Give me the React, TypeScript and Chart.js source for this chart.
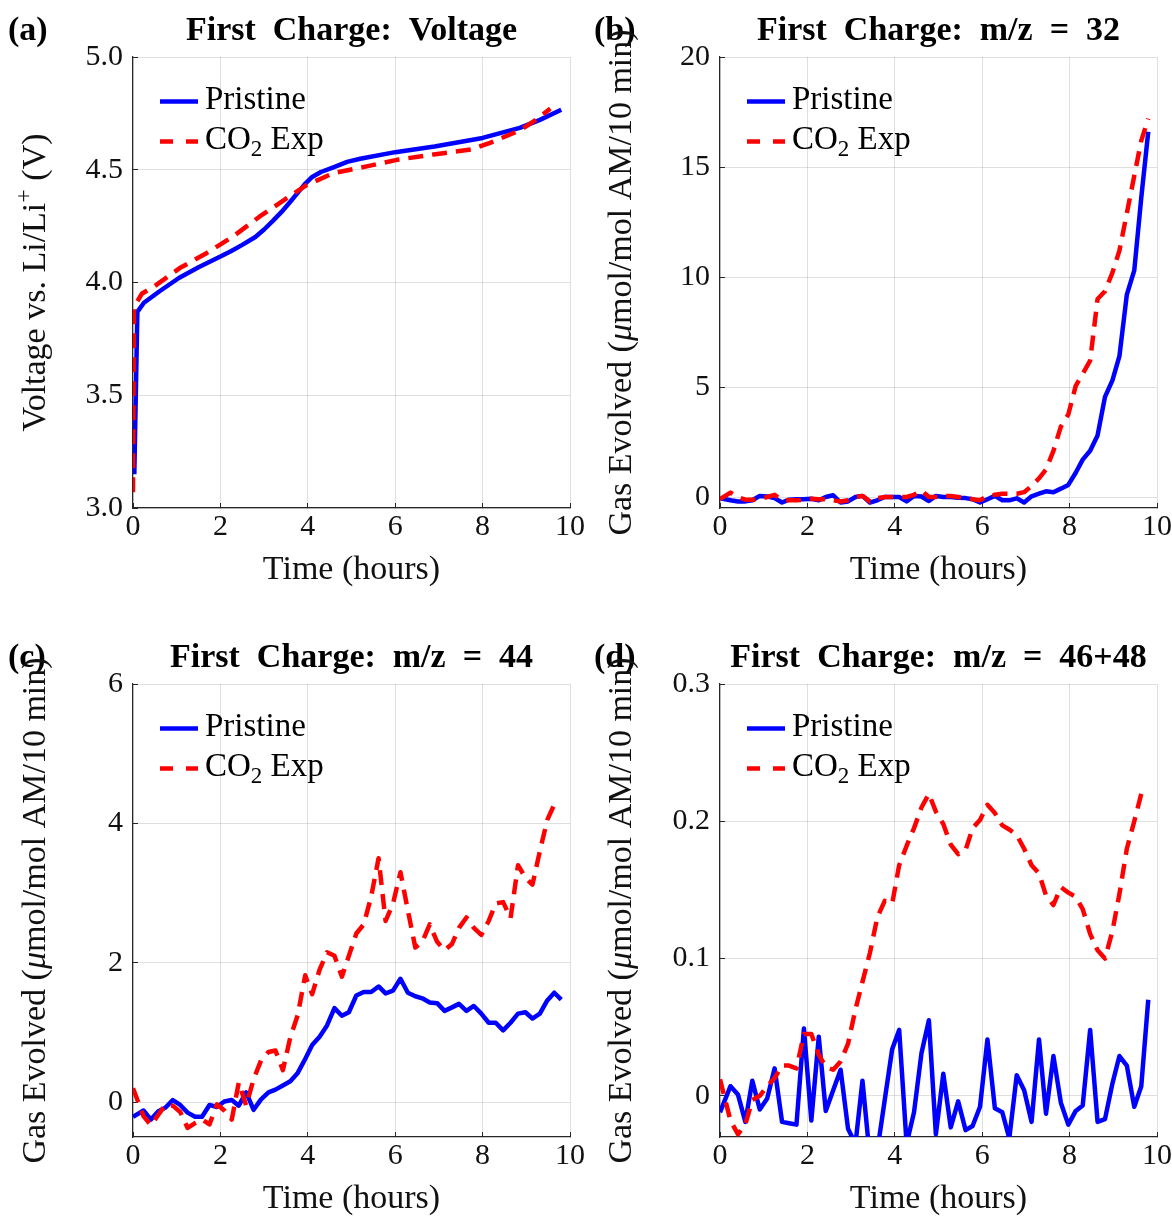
import React, { useEffect, useRef } from 'react';
import { Chart, registerables } from 'chart.js';

Chart.register(...registerables);

// ---------------- DATA ----------------
const timeHours = [0, 0.24, 0.41, 0.58, 0.74, 0.91, 1.08, 1.25, 1.42, 1.58, 1.75, 1.92, 2.09, 2.26, 2.42, 2.59, 2.76, 2.93, 3.1, 3.26, 3.43, 3.6, 3.77, 3.94, 4.1, 4.27, 4.44, 4.61, 4.78, 4.94, 5.11, 5.28, 5.45, 5.62, 5.78, 5.95, 6.12, 6.29, 6.46, 6.62, 6.79, 6.96, 7.13, 7.3, 7.46, 7.63, 7.8, 7.97, 8.14, 8.3, 8.47, 8.64, 8.81, 8.98, 9.14, 9.31, 9.48, 9.64, 9.8];

const voltTimePristine = [0.03, 0.1, 0.25, 0.6, 1.05, 1.5, 2.0, 2.25, 2.5, 2.8, 3.0, 3.2, 3.4, 3.6, 3.8, 3.95, 4.1, 4.3, 4.6, 4.9, 5.2, 6.0, 6.9, 8.0, 8.85, 9.3, 9.8];
const voltPristine = [3.15, 3.87, 3.91, 3.96, 4.02, 4.068, 4.115, 4.14, 4.167, 4.202, 4.235, 4.273, 4.313, 4.358, 4.405, 4.44, 4.468, 4.49, 4.512, 4.535, 4.549, 4.578, 4.603, 4.641, 4.686, 4.72, 4.766];
const voltTimeCO2 = [0, 0.02, 0.2, 0.5, 1.07, 1.68, 2.29, 2.9, 3.52, 3.98, 4.59, 5.35, 6.04, 6.88, 7.74, 8.17, 8.86, 9.21, 9.55];
const voltCO2 = [3.07, 3.89, 3.95, 3.985, 4.064, 4.13, 4.204, 4.293, 4.374, 4.433, 4.485, 4.515, 4.544, 4.568, 4.59, 4.619, 4.675, 4.72, 4.771];

// m/z = 32
const o2Pristine = [
  -0.05, -0.15, -0.2, -0.2, -0.15, 0.05, 0.02, -0.05, -0.25, -0.12,
  -0.1, -0.1, -0.08, -0.15, 0.0, 0.08, -0.25, -0.2, 0.0, 0.05,
  -0.25, -0.15, 0.0, 0.0, 0.0, -0.2, 0.05, 0.02, -0.18, 0.05,
  0.0, 0.0, -0.03, -0.05, -0.1, -0.25, -0.1, 0.05, -0.15, -0.15,
  -0.06, -0.25, 0.03, 0.15, 0.26, 0.22, 0.38, 0.55, 1.1, 1.7,
  2.1, 2.8, 4.55, 5.3, 6.4, 9.2, 10.3, 13.6, 16.6,
];
const o2CO2 = [
  -0.1, 0.2, 0.0, -0.12, -0.12, -0.1, 0.0, 0.1, -0.15, -0.15,
  -0.15, -0.12, -0.08, -0.1, -0.1, -0.15, -0.2, -0.15, 0.0, 0.05,
  -0.2, -0.05, 0.0, 0.0, 0.0, 0.0, 0.1, 0.3, 0.0, 0.0,
  0.05, 0.05, 0.0, -0.05, -0.1, -0.15, 0.05, 0.1, 0.15, 0.15,
  0.15, 0.22, 0.5, 0.85, 1.25, 2.1, 3.2, 3.75, 5.05, 5.6,
  6.2, 9.0, 9.35, 10.2, 11.2, 12.9, 14.6, 16.2, 17.2,
];

// m/z = 44
const co2Pristine = [
  -0.21, -0.12, -0.25, -0.13, -0.08, 0.03, -0.04, -0.15, -0.21, -0.21,
  -0.04, -0.07, 0.01, 0.03, -0.05, 0.14, -0.11, 0.04, 0.14, 0.18,
  0.24, 0.3, 0.42, 0.62, 0.82, 0.94, 1.1, 1.35, 1.24, 1.29,
  1.53, 1.58, 1.58, 1.66, 1.56, 1.6, 1.77, 1.57, 1.52, 1.49,
  1.43, 1.42, 1.31, 1.36, 1.41, 1.31, 1.38, 1.27, 1.14, 1.14,
  1.03, 1.14, 1.27, 1.29, 1.2, 1.27, 1.46, 1.57, 1.47,
];
const co2CO2 = [
  0.2, -0.2, -0.33, -0.18, -0.04, -0.05, -0.14, -0.37, -0.3, -0.25,
  -0.32, -0.03, -0.12, -0.25, 0.28, -0.05, 0.33, 0.6, 0.72, 0.74,
  0.46, 0.93, 1.25, 1.82, 1.55, 1.9, 2.15, 2.1, 1.8, 2.1,
  2.42, 2.55, 2.95, 3.5, 2.6, 2.85, 3.3, 2.75, 2.22, 2.3,
  2.55, 2.3, 2.18, 2.27, 2.5, 2.65, 2.5, 2.4, 2.6, 2.85,
  2.87, 2.64, 3.4, 3.22, 3.12, 3.6, 4.05, 4.27,
];

// m/z = 46+48
const hfPristine = [
  -0.012, 0.007, 0.001, -0.019, 0.011, -0.01, -0.002, 0.02, -0.019, -0.02,
  -0.021, 0.049, -0.018, 0.043, -0.011, 0.004, 0.019, -0.024, -0.035, 0.011,
  -0.045, -0.04, -0.003, 0.034, 0.048, -0.035, -0.012, 0.031, 0.055, -0.028,
  0.016, -0.023, -0.004, -0.025, -0.022, -0.008, 0.041, -0.009, -0.012, -0.031,
  0.015, 0.004, -0.019, 0.041, -0.013, 0.029, -0.005, -0.021, -0.011, -0.007,
  0.048, -0.019, -0.017, 0.009, 0.029, 0.022, -0.008, 0.007, 0.07,
];
const hfCO2 = [
  0.012, -0.018, -0.028, -0.021, -0.003, 0.0, 0.007, 0.013, 0.022, 0.022,
  0.02, 0.045, 0.045, 0.03, 0.021, 0.019, 0.025, 0.038, 0.063, 0.083,
  0.104, 0.13, 0.142, 0.14, 0.168, 0.182, 0.195, 0.21, 0.22, 0.207,
  0.198, 0.183, 0.176, 0.179, 0.195, 0.201, 0.212, 0.206, 0.197, 0.194,
  0.19, 0.18, 0.168, 0.162, 0.146, 0.139, 0.152, 0.148, 0.145, 0.136,
  0.118, 0.106, 0.1, 0.12, 0.147, 0.18, 0.2, 0.22,
];

const xTicks = [0, 2, 4, 6, 8, 10];
const voltTicks = [3.0, 3.5, 4.0, 4.5, 5.0];
const o2Ticks = [0, 5, 10, 15, 20];
const co2Ticks = [0, 2, 4, 6];
const hfTicks = [0, 0.1, 0.2, 0.3];

const seriesNames = ['Pristine', 'CO2 Exp'];

// ---------------- STYLE ----------------
const FAMILY = '"Liberation Serif", "Times New Roman", serif';
const AXIS_COLOR = '#262626';
const TEXT_COLOR = '#111111';
const GRID_COLOR = 'rgba(38,38,38,0.15)';
const BLUE = '#0000ff';
const RED = '#ff0000';
const LINE_W = 4.5;
const DASH = [15, 9];

type Seg = { text: string; size: number; bold?: boolean; italic?: boolean; dy?: number };

function fontOf(s: Seg) {
  return `${s.italic ? 'italic ' : ''}${s.bold ? 'bold ' : ''}${s.size}px ${FAMILY}`;
}

function drawRich(ctx: CanvasRenderingContext2D, segs: Seg[], x: number, y: number, align: 'left' | 'center', color: string) {
  let total = 0;
  for (const s of segs) {
    ctx.font = fontOf(s);
    total += ctx.measureText(s.text).width;
  }
  let cx = align === 'center' ? x - total / 2 : x;
  ctx.textAlign = 'left';
  ctx.textBaseline = 'alphabetic';
  ctx.fillStyle = color;
  for (const s of segs) {
    ctx.font = fontOf(s);
    ctx.fillText(s.text, cx, y + (s.dy || 0));
    cx += ctx.measureText(s.text).width;
  }
}

type PanelSpec = {
  x: number; y: number; w: number; h: number;
  area: { left: number; top: number; right: number; bottom: number };
  yMin: number; yMax: number; yTicks: number[]; yFmt: (v: number) => string;
  tPristine: number[]; vPristine: number[]; tCO2: number[]; vCO2: number[];
  title: string; label: string; yTitle: Seg[];
};

const voltYTitle: Seg[] = [
  { text: 'Voltage vs. Li/Li', size: 34 },
  { text: '+', size: 24, dy: -14 },
  { text: ' (V)', size: 34 },
];
const gasYTitle: Seg[] = [
  { text: 'Gas Evolved (', size: 34 },
  { text: 'μ', size: 34, italic: true },
  { text: 'mol/mol AM/10 min)', size: 34 },
];

const SP = '\u2002';
const panels: PanelSpec[] = [
  {
    x: 0, y: 0, w: 586, h: 609,
    area: { left: 133, top: 57, right: 570, bottom: 508 },
    yMin: 3, yMax: 5, yTicks: voltTicks, yFmt: (v) => v.toFixed(1),
    tPristine: voltTimePristine, vPristine: voltPristine, tCO2: voltTimeCO2, vCO2: voltCO2,
    title: `First${SP}Charge:${SP}Voltage`, label: '(a)', yTitle: voltYTitle,
  },
  {
    x: 586, y: 0, w: 586, h: 609,
    area: { left: 134, top: 57, right: 571, bottom: 508 },
    yMin: -0.5, yMax: 20, yTicks: o2Ticks, yFmt: (v) => String(v),
    tPristine: timeHours, vPristine: o2Pristine, tCO2: timeHours, vCO2: o2CO2,
    title: `First${SP}Charge:${SP}m/z${SP}=${SP}32`, label: '(b)', yTitle: gasYTitle,
  },
  {
    x: 0, y: 609, w: 586, h: 609,
    area: { left: 133, top: 75, right: 570, bottom: 528 },
    yMin: -0.5, yMax: 6, yTicks: co2Ticks, yFmt: (v) => String(v),
    tPristine: timeHours, vPristine: co2Pristine, tCO2: timeHours, vCO2: co2CO2,
    title: `First${SP}Charge:${SP}m/z${SP}=${SP}44`, label: '(c)', yTitle: gasYTitle,
  },
  {
    x: 586, y: 609, w: 586, h: 609,
    area: { left: 134, top: 75, right: 571, bottom: 528 },
    yMin: -0.03, yMax: 0.3, yTicks: hfTicks, yFmt: (v) => String(v),
    tPristine: timeHours, vPristine: hfPristine, tCO2: timeHours, vCO2: hfCO2,
    title: `First${SP}Charge:${SP}m/z${SP}=${SP}46+48`, label: '(d)', yTitle: gasYTitle,
  },
];

function toPoints(t: number[], v: number[]) {
  return v.map((val, i) => ({ x: t[i], y: val }));
}

function makeTextPlugin(spec: PanelSpec) {
  return {
    id: 'panelText',
    afterDraw(chart: any) {
      const ctx: CanvasRenderingContext2D = chart.ctx;
      const ca = chart.chartArea;
      const cx = (ca.left + ca.right) / 2;
      const cy = (ca.top + ca.bottom) / 2;
      ctx.save();
      drawRich(ctx, [{ text: spec.title, size: 34, bold: true }], cx, ca.top - 17, 'center', '#000');
      drawRich(ctx, [{ text: spec.label, size: 34, bold: true }], 8, ca.top - 17, 'left', '#000');
      drawRich(ctx, [{ text: 'Time (hours)', size: 34 }], cx, ca.bottom + 71, 'center', TEXT_COLOR);
      ctx.save();
      ctx.translate(45, cy);
      ctx.rotate(-Math.PI / 2);
      drawRich(ctx, spec.yTitle, 0, 0, 'center', TEXT_COLOR);
      ctx.restore();
      const lx0 = ca.left + 27;
      const lx1 = ca.left + 65;
      const r1 = ca.top + 44.5;
      const r2 = ca.top + 84.5;
      ctx.lineWidth = LINE_W;
      ctx.lineCap = 'butt';
      ctx.strokeStyle = BLUE;
      ctx.setLineDash([]);
      ctx.beginPath(); ctx.moveTo(lx0, r1); ctx.lineTo(lx1, r1); ctx.stroke();
      ctx.strokeStyle = RED;
      ctx.setLineDash([13, 13]);
      ctx.beginPath(); ctx.moveTo(lx0, r2); ctx.lineTo(lx1, r2); ctx.stroke();
      ctx.setLineDash([]);
      drawRich(ctx, [{ text: seriesNames[0], size: 33 }], ca.left + 72, r1 + 7, 'left', '#000');
      drawRich(ctx, [
        { text: 'CO', size: 33 },
        { text: '2', size: 23, dy: 7 },
        { text: ' Exp', size: 33 },
      ], ca.left + 72, r2 + 7, 'left', '#000');
      ctx.restore();
    },
  };
}

function Panel({ spec }: { spec: PanelSpec }) {
  const ref = useRef<HTMLCanvasElement>(null);
  useEffect(() => {
    const canvas = ref.current;
    if (!canvas) return;
    const XH = 50;
    const a = spec.area;
    const tickFont = { family: FAMILY, size: 30, lineHeight: 1 };
    const chart = new Chart(canvas, {
      type: 'line',
      data: {
        datasets: [
          {
            label: seriesNames[1],
            data: toPoints(spec.tCO2, spec.vCO2),
            borderColor: RED,
            borderWidth: LINE_W,
            borderDash: DASH,
            borderJoinStyle: 'round',
            pointRadius: 0,
            fill: false,
            tension: 0,
          },
          {
            label: seriesNames[0],
            data: toPoints(spec.tPristine, spec.vPristine),
            borderColor: BLUE,
            borderWidth: LINE_W,
            borderJoinStyle: 'round',
            pointRadius: 0,
            fill: false,
            tension: 0,
          },
        ],
      },
      options: {
        animation: false,
        responsive: false,
        maintainAspectRatio: false,
        devicePixelRatio: 1,
        events: [],
        layout: {
          padding: { left: 0, top: a.top, right: spec.w - a.right, bottom: spec.h - a.bottom - XH },
        },
        plugins: {
          legend: { display: false },
          title: { display: false },
          tooltip: { enabled: false },
        },
        scales: {
          x: {
            type: 'linear',
            min: 0,
            max: 10,
            afterBuildTicks: (s: any) => { s.ticks = xTicks.map((v) => ({ value: v })); },
            afterFit: (s: any) => { s.height = XH; s.paddingLeft = 0; s.paddingRight = 0; },
            ticks: {
              font: tickFont,
              color: TEXT_COLOR,
              padding: 9,
              maxRotation: 0,
              autoSkip: false,
              callback: (v: any) => String(v),
            },
            grid: { color: GRID_COLOR, lineWidth: 1, drawTicks: true, tickLength: -5, tickColor: AXIS_COLOR },
            border: { display: true, color: AXIS_COLOR, width: 1.2 },
          },
          y: {
            type: 'linear',
            min: spec.yMin,
            max: spec.yMax,
            afterBuildTicks: (s: any) => { s.ticks = spec.yTicks.map((v) => ({ value: v })); },
            afterFit: (s: any) => { s.width = a.left; s.paddingTop = 0; s.paddingBottom = 0; },
            ticks: {
              font: tickFont,
              color: TEXT_COLOR,
              padding: 15,
              autoSkip: false,
              callback: (v: any) => spec.yFmt(Number(v)),
            },
            grid: { color: GRID_COLOR, lineWidth: 1, drawTicks: true, tickLength: -5, tickColor: AXIS_COLOR },
            border: { display: true, color: AXIS_COLOR, width: 1.2 },
          },
        },
      } as any,
      plugins: [makeTextPlugin(spec)],
    });
    return () => chart.destroy();
  }, [spec]);
  return (
    <canvas
      ref={ref}
      width={spec.w}
      height={spec.h}
      style={{ position: 'absolute', left: spec.x, top: spec.y, width: spec.w, height: spec.h }}
    />
  );
}

export default function App() {
  return (
    <div style={{ position: 'absolute', left: 0, top: 0, width: 1172, height: 1218, background: '#fff', overflow: 'hidden' }}>
      {panels.map((p, i) => (
        <Panel key={i} spec={p} />
      ))}
    </div>
  );
}
